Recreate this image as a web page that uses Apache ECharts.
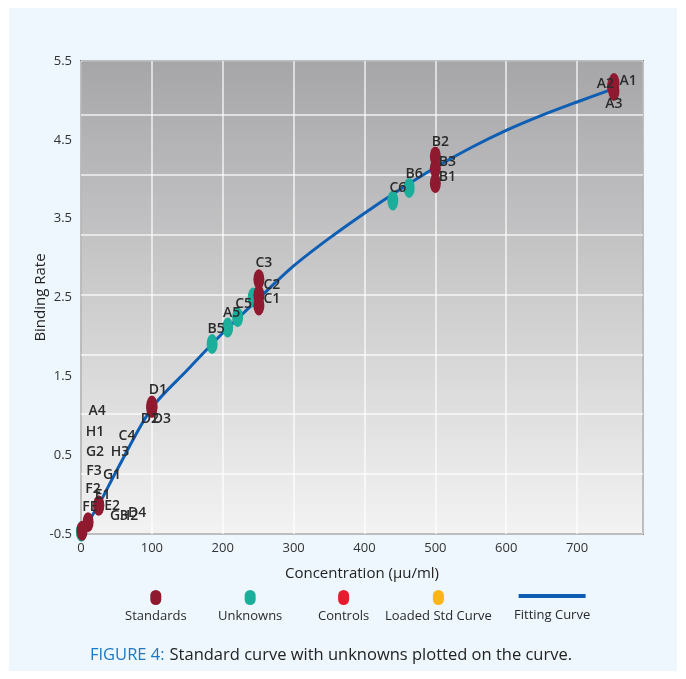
<!DOCTYPE html>
<html>
<head>
<meta charset="utf-8">
<script src="https://cdn.jsdelivr.net/npm/echarts@6/dist/echarts.min.js"></script>
<style>
html,body{margin:0;padding:0;background:#ffffff;}
#chart{width:686px;height:679px;}
</style>
</head>
<body>
<div id="chart"></div>
<script>
// ---------- data ----------
var xTicks = [0, 100, 200, 300, 400, 500, 600, 700];
var yTicks = [-0.5, 0.5, 1.5, 2.5, 3.5, 4.5, 5.5];

var standardNames = ['A1','A2','A3','B2','B3','B1','C3','C2','C1','D1','D2','D3','E1','E2','F1','H2'];
var standardX     = [752, 750, 752, 500, 500, 500, 251, 251, 251, 100, 100, 100, 25, 25, 10, 1.5];
var standardY     = [5.22, 5.18, 5.12, 4.29, 4.14, 3.95, 2.73, 2.53, 2.40, 1.13, 1.10, 1.10, -0.14, -0.14, -0.35, -0.46];

var unknownNames = ['B5','A5','C5','C7','C6','B6','H4'];
var unknownX     = [185, 207, 221, 243, 440, 463, 0.5];
var unknownY     = [1.91, 2.12, 2.25, 2.50, 3.73, 3.89, -0.47];

var fitX = [0, 10, 25, 50, 100, 150, 200, 250, 300, 350, 400, 450, 500, 550, 600, 650, 700, 752];
var fitY = [-0.5, -0.35, -0.13, 0.30, 1.10, 1.58, 2.05, 2.48, 2.90, 3.25, 3.57, 3.87, 4.15, 4.40, 4.62, 4.81, 4.98, 5.15];

// free-floating sample labels near the origin
var noteText = ['A4','H1','G2','F3','F2','G1','H3','C4','FE','G3','H2','D4'];
var noteX    = [22.6, 19.8, 19.8, 18.4, 16.9, 43.8, 55.1, 64.9, 12.7, 53.6, 67.8, 79.1];
var noteY    = [1.06, 0.79, 0.54, 0.30, 0.07, 0.25, 0.54, 0.74, -0.16, -0.27, -0.27, -0.24];

var legendNames = ['Standards','Unknowns','Controls','Loaded Std Curve','Fitting Curve'];

// ---------- styles ----------
var C_STD = '#8f1a30', C_UNK = '#1bae9a', C_CTL = '#e81b2e', C_LSC = '#fbb517', C_FIT = '#0e5fb4';
var LBL = {color:'#2b2b2b', fontSize:14, fontWeight:600, fontFamily:'Open Sans'};

var labelCfg = {
  A1:{position:'right', distance:0, offset:[0,-2]},
  A2:{position:'left', distance:-7, offset:[0,-2]},
  A3:{position:'bottom', distance:-4},
  B2:{position:'top', distance:-3, offset:[5,0]},
  B3:{position:'right', distance:-2, offset:[0,-6]},
  B1:{position:'right', distance:-2, offset:[0,-6]},
  C3:{position:'top', distance:-1, offset:[5,0]},
  C2:{position:'right', distance:-1, offset:[0,-10]},
  C1:{position:'right', distance:-1, offset:[0,-6]},
  D1:{position:'top', distance:-2, offset:[6,0]},
  D2:{position:'bottom', distance:-6, offset:[-2,0]},
  D3:{position:'bottom', distance:-6, offset:[10,0]},
  E1:{position:'top', distance:-6, offset:[4,0]},
  E2:{position:'right', distance:0, offset:[0,0]},
  B5:{position:'top', distance:-2, offset:[4,0]},
  A5:{position:'top', distance:-3, offset:[4,0]},
  C5:{position:'top', distance:-4, offset:[6,0]},
  C6:{position:'top', distance:-4, offset:[5,0]},
  B6:{position:'top', distance:-3, offset:[5,0]}
};

function pts(names, xs, ys){
  return names.map(function(n,i){
    var d = {name:n, value:[xs[i], ys[i]]};
    var c = labelCfg[n];
    if (c) { d.label = Object.assign({show:true, formatter:n}, LBL, c); }
    else { d.label = {show:false}; }
    return d;
  });
}

// legend helpers
var mc = document.createElement('canvas').getContext('2d');
mc.font = '13px "Open Sans"';
var legendCenters = [156, 250, 344, 438, 552];
var legendKeys = ['s','u','c','l','f'];
var richBase = {
  t:{fontSize:13, fontFamily:'Open Sans', color:'#2a2a2a', align:'center', lineHeight:18},
  s:{width:11, height:15, borderRadius:6, backgroundColor:C_STD, align:'center', lineHeight:20},
  u:{width:11, height:15, borderRadius:6, backgroundColor:C_UNK, align:'center', lineHeight:20},
  c:{width:11, height:15, borderRadius:6, backgroundColor:C_CTL, align:'center', lineHeight:20},
  l:{width:11, height:15, borderRadius:6, backgroundColor:C_LSC, align:'center', lineHeight:20},
  f:{width:53, height:4, backgroundColor:C_FIT, align:'center', lineHeight:20, padding:[0,0,0,14]}
};
var legends = legendNames.map(function(n,i){
  var w = mc.measureText(n).width;
  return {
    data:[{name:n, icon:'rect'}],
    left: Math.round(legendCenters[i] - w/2 - 5),
    top: 590,
    padding:0,
    itemWidth:0, itemHeight:0,
    selectedMode:false,
    formatter: function(name){ return '{' + legendKeys[i] + '| }\n{t|' + name + '}'; },
    textStyle:{rich:richBase}
  };
});

var chart = echarts.init(document.getElementById('chart'), null, {renderer:'canvas'});
chart.setOption({
  backgroundColor:'#ffffff',
  animation:false,
  graphic:[{type:'rect', z:-10, silent:true, shape:{x:9, y:8, width:668, height:663}, style:{fill:'#eef7fd'}}],
  title:{
    left:85, top:641,
    text:'{a|FIGURE 4:} {b|Standard curve with unknowns plotted on the curve.}',
    textStyle:{fontWeight:'normal', rich:{
      a:{fontSize:16.5, fontFamily:'Open Sans', fontWeight:'normal', color:'#1f78c1'},
      b:{fontSize:16.5, fontFamily:'Open Sans', fontWeight:'normal', color:'#222222'}
    }}
  },
  legend: legends,
  grid:{
    left:81, top:61, right:43, bottom:145,
    show:true,
    borderColor:'#2a2a2a', borderWidth:1.5,
    backgroundColor:{type:'linear', x:0, y:0, x2:0, y2:1,
      colorStops:[{offset:0, color:'#a6a6a9'},{offset:0.5, color:'#cdcdce'},{offset:1, color:'#f3f3f3'}]}
  },
  xAxis:[{
    type:'value', min:0, max:793, interval:100,
    name:'Concentration (μu/ml)', nameLocation:'middle', nameGap:32, nameMoveOverlap:false,
    nameTextStyle:{fontSize:15, fontFamily:'Open Sans', color:'#222'},
    axisLine:{show:false}, axisTick:{show:false},
    axisLabel:{showMaxLabel:false, fontSize:13, fontFamily:'Open Sans', color:'#333', margin:8,
      formatter:function(v){ return xTicks.indexOf(v) >= 0 ? String(v) : ''; }},
    splitLine:{show:true, lineStyle:{color:'rgba(255,255,255,0.8)', width:1.5}}
  }],
  yAxis:[{
    type:'value', min:-0.5, max:5.5, interval:1,
    name:'Binding Rate', nameLocation:'middle', nameGap:33, nameMoveOverlap:false,
    nameTextStyle:{fontSize:15, fontFamily:'Open Sans', color:'#222'},
    axisLine:{show:false}, axisTick:{show:false},
    axisLabel:{fontSize:13, fontFamily:'Open Sans', color:'#333', margin:9,
      formatter:function(v){ return yTicks.indexOf(v) >= 0 ? String(v) : ''; }},
    splitLine:{show:false}
  },{
    type:'value', min:-0.5, max:5.5, interval:0.76, position:'left',
    axisLine:{show:false}, axisTick:{show:false}, axisLabel:{show:false},
    splitLine:{show:true, lineStyle:{color:'rgba(255,255,255,0.8)', width:1.5}}
  }],
  series:[
    {name:'Fitting Curve', type:'line', smooth:0.3, showSymbol:false, symbol:'none',
      data: fitX.map(function(x,i){ return [x, fitY[i]]; }),
      lineStyle:{color:C_FIT, width:3}, itemStyle:{color:C_FIT}, z:2},
    {name:'Unknowns', type:'scatter', symbol:'circle', symbolSize:[11,20],
      itemStyle:{color:C_UNK, opacity:1}, data: pts(unknownNames, unknownX, unknownY), z:3},
    {name:'Standards', type:'scatter', symbol:'circle', symbolSize:[11,20],
      itemStyle:{color:C_STD, opacity:1}, data: pts(standardNames, standardX, standardY), z:4},
    {name:'Controls', type:'scatter', symbol:'circle', symbolSize:[11,20], itemStyle:{color:C_CTL, opacity:1}, data:[]},
    {name:'Loaded Std Curve', type:'scatter', symbol:'circle', symbolSize:[11,20], itemStyle:{color:C_LSC, opacity:1}, data:[]},
    {name:'notes', type:'scatter', symbolSize:0, z:5, itemStyle:{opacity:1},
      data: noteText.map(function(t,i){ return {name:t, value:[noteX[i], noteY[i]]}; }),
      label:Object.assign({show:true, position:'inside', formatter:'{b}'}, LBL)}
  ]
});
</script>
</body>
</html>
